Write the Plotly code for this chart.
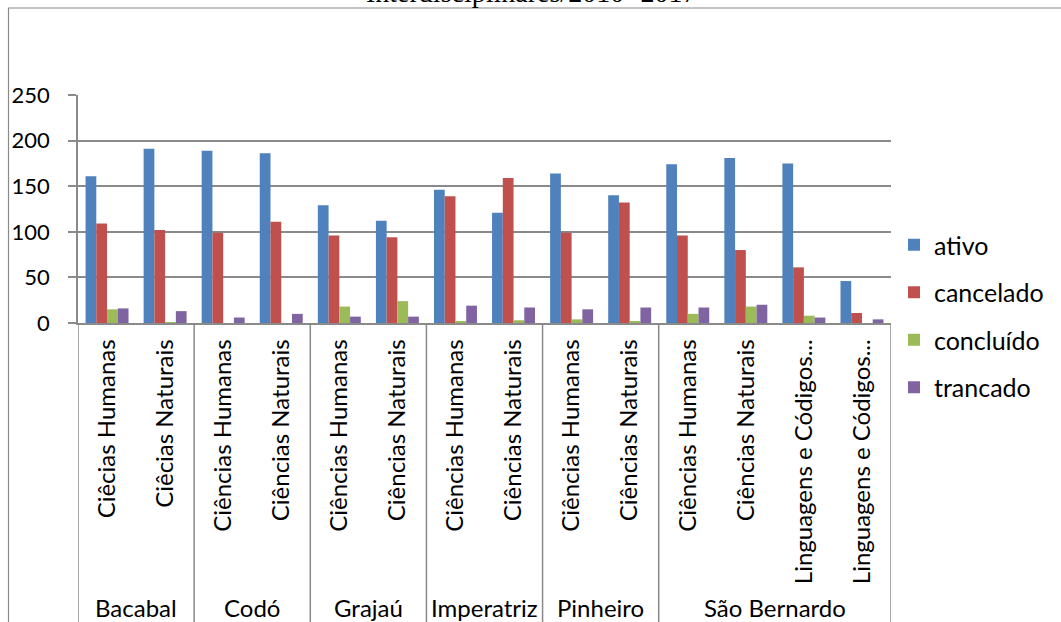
import plotly.graph_objects as go

# ---- data ----
campi = ["Bacabal", "Codó", "Grajaú", "Imperatriz", "Pinheiro", "São Bernardo"]
campus_sizes = [2, 2, 2, 2, 2, 4]
cursos = [
    "Ciêcias Humanas", "Ciêcias Naturais",
    "Ciências Humanas", "Ciências Naturais",
    "Ciências Humanas", "Ciências Naturais",
    "Ciências Humanas", "Ciências Naturais",
    "Ciências Humanas", "Ciências Naturais",
    "Ciências Humanas", "Ciências Naturais",
    "Linguagens e Códigos...", "Linguagens e Códigos...",
]
ativo = [161, 191, 189, 186, 129, 112, 146, 121, 164, 140, 174, 181, 175, 46]
cancelado = [109, 102, 99, 111, 96, 94, 139, 159, 99, 132, 96, 80, 61, 11]
concluido = [15, 1, 0, 0, 18, 24, 2, 3, 4, 2, 10, 18, 8, 0]
trancado = [16, 13, 6, 10, 7, 7, 19, 17, 15, 17, 17, 20, 6, 4]
series_names = ["ativo", "cancelado", "concluído", "trancado"]
series_values = [ativo, cancelado, concluido, trancado]
series_colors = ["#4F81BD", "#C0504D", "#9BBB59", "#8064A2"]
y_ticks = [0, 50, 100, 150, 200, 250]
title_text = "Interdisciplinares/2010 -2017"

# ---- layout geometry (pixels) ----
W, H = 1061, 622
L, R, T, B = 78, 897, 95, 323
pw, ph = R - L, B - T

def px_x(p):
    return (p - L) / pw

def px_y(p):
    return (B - p) / ph

FONT = "Lato"
FS = 25
GRID = "#8A8A8A"

xpos = list(range(len(cursos)))

fig = go.Figure()
for name, vals, col in zip(series_names, series_values, series_colors):
    fig.add_trace(go.Bar(
        x=xpos, y=vals, name=name, marker_color=col,
        marker_line_width=0, legendgroup=name,
    ))

shapes = []
# group boundary lines (x axis hierarchy)
bounds = [-0.5]
acc = -0.5
for s in campus_sizes:
    acc += s
    bounds.append(acc)
for bnd in bounds:
    shapes.append(dict(type="line", xref="x", yref="paper", x0=bnd, x1=bnd,
                       y0=0, y1=px_y(H + 10), line=dict(color=GRID, width=1.5)))
# outer chart frame
shapes.append(dict(type="rect", xref="paper", yref="paper",
                   x0=px_x(8), x1=px_x(W + 10), y0=px_y(H + 10), y1=px_y(8),
                   line=dict(color=GRID, width=1.2), layer="below"))

annotations = []
start = 0
for c, s in zip(campi, campus_sizes):
    center = start + (s - 1) / 2
    annotations.append(dict(text=c, x=center, xref="x", y=px_y(607), yref="paper",
                            showarrow=False, yanchor="middle", xanchor="center",
                            font=dict(family=FONT, size=24, color="black")))
    start += s
annotations.append(dict(text=title_text, x=px_x(534), xref="paper", y=px_y(10), yref="paper",
                        showarrow=False, yanchor="bottom", xanchor="center",
                        font=dict(family="Liberation Serif", size=28, color="black")))

fig.update_layout(
    width=W, height=H,
    margin=dict(l=L, r=W - R, t=T, b=H - B, pad=0),
    paper_bgcolor="white", plot_bgcolor="white",
    barmode="group", bargap=0.26, bargroupgap=0,
    font=dict(family=FONT, size=FS, color="black"),
    showlegend=True,
    legend=dict(x=px_x(900), xanchor="left", y=px_y(222), yanchor="top",
                font=dict(family=FONT, size=FS, color="black"),
                tracegroupgap=12, bgcolor="rgba(0,0,0,0)", itemwidth=30),
    shapes=shapes, annotations=annotations,
    xaxis=dict(range=[-0.5, len(cursos) - 0.5], tickmode="array", tickvals=xpos,
               ticktext=cursos, tickangle=-90, showgrid=False, zeroline=False,
               showline=True, linecolor=GRID, linewidth=1.5, ticks="",
               ticklabelstandoff=5, tickfont=dict(family=FONT, size=24, color="black"),
               fixedrange=True),
    yaxis=dict(range=[0, 250], tickmode="array", tickvals=y_ticks, showgrid=True,
               gridcolor=GRID, gridwidth=1.5, zeroline=False, showline=True,
               linecolor=GRID, linewidth=1.5, ticks="outside", ticklen=8,
               tickcolor=GRID, tickwidth=1.5, ticklabelstandoff=14,
               tickfont=dict(family=FONT, size=22, color="black"), fixedrange=True),
)

fig.write_html("out.html", config={"displayModeBar": False},
               post_script="document.body.style.margin='0';")
